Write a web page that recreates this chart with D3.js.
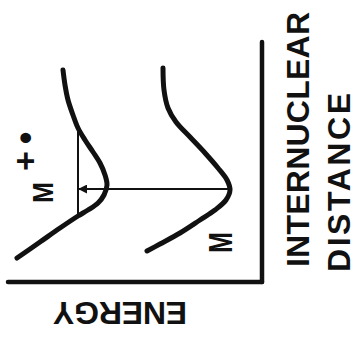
<!DOCTYPE html>
<html>
<head>
<meta charset="utf-8">
<style>
body { margin: 0; background: #fff; }
path.curve { fill: none; stroke: #111; stroke-width: 5px; stroke-linecap: round; }
line.axis { stroke: #111; stroke-width: 4.5px; stroke-linecap: round; }
line.thin { stroke: #111; stroke-width: 2px; }
text { font-family: "Liberation Sans", Arial, sans-serif; font-weight: bold; fill: #111; }
</style>
</head>
<body>
<script src="https://cdn.jsdelivr.net/npm/d3@7"></script>
<script>

// internuclear distance (r) and energy (e), arbitrary units
var neutralR = [21.4, 19.2, 17.4, 16.0, 14.5, 12.9, 11.4, 10.2, 9.2, 8.2, 7.2, 6.2, 4.9, 3.8, 3.1];
var neutralE = [9.9, 9.8, 9.4, 8.6, 7.2, 5.7, 4.4, 3.5, 3.2, 3.6, 4.7, 6.2, 8.2, 10.2, 11.5];

var ionR = [21.2, 19.7, 18.2, 16.7, 15.4, 14.2, 13.0, 11.9, 10.7, 9.7, 8.7, 7.9, 7.2, 6.6, 5.4, 4.0, 2.4];
var ionE = [19.9, 19.7, 19.4, 18.9, 18.4, 17.7, 16.9, 16.2, 15.7, 15.5, 15.8, 16.4, 17.4, 18.4, 20.2, 22.2, 24.5];

// vibrational level of the ion and the vertical transition
var levelE = 18.4, levelR = [6.6, 15.4];
var transitionR = 9.3, transitionE = [3.2, 18.4];

var energyMax = 25.4, distanceMax = 24;

var width = 360, height = 337;

var svg = d3.select("body").append("svg")
    .attr("width", width)
    .attr("height", height);

// the figure is turned a quarter turn: energy runs leftward, distance upward
var x = d3.scaleLinear().domain([0, energyMax]).range([262, 8]);
var y = d3.scaleLinear().domain([0, distanceMax]).range([282, 42]);

svg.append("defs").append("marker")
    .attr("id", "head")
    .attr("viewBox", "0 0 10 10")
    .attr("refX", 9).attr("refY", 5)
    .attr("markerWidth", 4.5).attr("markerHeight", 4.5)
    .attr("orient", "auto")
    .append("path")
    .attr("d", "M0,0L10,5L0,10Z")
    .attr("fill", "#111");

// axes
svg.append("line").attr("class", "axis")
    .attr("x1", x(0)).attr("y1", y(0))
    .attr("x2", x(energyMax)).attr("y2", y(0));
svg.append("line").attr("class", "axis")
    .attr("x1", x(0)).attr("y1", y(0))
    .attr("x2", x(0)).attr("y2", y(distanceMax));

var line = d3.line()
    .x(function(d) { return x(d[1]); })
    .y(function(d) { return y(d[0]); })
    .curve(d3.curveCatmullRom);

svg.append("path").attr("class", "curve")
    .attr("d", line(d3.zip(neutralR, neutralE)));
svg.append("path").attr("class", "curve")
    .attr("d", line(d3.zip(ionR, ionE)));

svg.append("line").attr("class", "thin")
    .attr("x1", x(levelE)).attr("y1", y(levelR[0]))
    .attr("x2", x(levelE)).attr("y2", y(levelR[1]));

svg.append("line").attr("class", "thin")
    .attr("x1", x(transitionE[0])).attr("y1", y(transitionR))
    .attr("x2", x(transitionE[1]) + 1).attr("y2", y(transitionR))
    .attr("marker-end", "url(#head)");

// labels
svg.append("text")
    .attr("transform", "translate(187,302) rotate(180)")
    .style("font-size", "32px")
    .attr("textLength", 134)
    .text("ENERGY");

svg.append("text")
    .attr("transform", "translate(309,267) rotate(-90)")
    .style("font-size", "32px")
    .attr("textLength", 255)
    .text("INTERNUCLEAR");

svg.append("text")
    .attr("transform", "translate(350,272) rotate(-90)")
    .style("font-size", "32px")
    .attr("textLength", 179)
    .text("DISTANCE");

svg.append("text")
    .attr("transform", "translate(232,253) rotate(-90)")
    .style("font-size", "33px")
    .attr("textLength", 21)
    .attr("lengthAdjust", "spacingAndGlyphs")
    .text("M");

svg.append("text")
    .attr("transform", "translate(53,203) rotate(-90)")
    .style("font-size", "29px")
    .attr("textLength", 21)
    .attr("lengthAdjust", "spacingAndGlyphs")
    .text("M");

svg.append("text")
    .attr("transform", "translate(25,161) rotate(-90)")
    .attr("text-anchor", "middle")
    .attr("dominant-baseline", "central")
    .style("font-size", "34px")
    .text("+");

svg.append("text")
    .attr("transform", "translate(25,138) rotate(-90)")
    .attr("text-anchor", "middle")
    .attr("dominant-baseline", "central")
    .style("font-size", "36px")
    .text("•");

</script>
</body>
</html>
